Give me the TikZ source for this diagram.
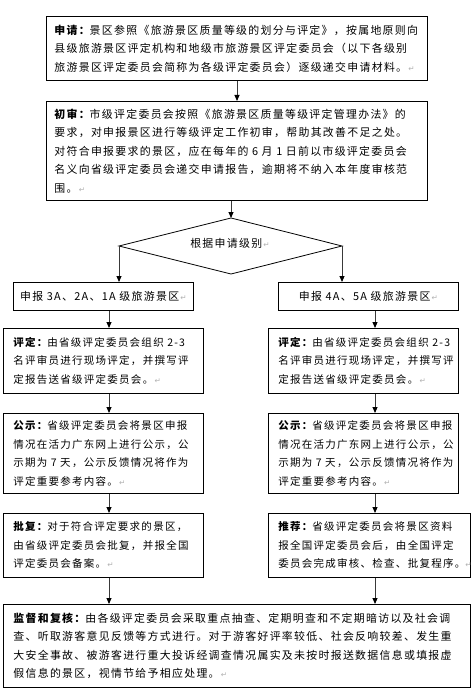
\documentclass[tikz,border=0pt]{standalone}
\usepackage{fontspec}
\setmainfont{Noto Sans CJK SC}[LetterSpace=12]
\newfontfamily\djv{DejaVu Sans}
\usetikzlibrary{arrows.meta}
\newcommand\retmark{{\djv\color{gray!60}\fontsize{7.5}{7.5}\selectfont\,↵}}
\newcommand\retmarktight{{\djv\color{gray!60}\fontsize{7.5}{7.5}\selectfont↵}}
\begin{document}
\begin{tikzpicture}[x=1pt,y=-1pt,
  box/.style={draw=black, line width=0.8pt, anchor=north west, inner ysep=0pt, align=left,
    font=\fontsize{10.9}{18.5}\selectfont},
  sbox/.style={box, font=\fontsize{10.5}{18.5}\selectfont},
  cbox/.style={box, align=center},
  arr/.style={draw=gray!45!black, line width=0.9pt, -{Triangle[width=5pt,length=6pt,black]}},
  lbl/.style={font=\fontsize{10.9}{18.5}\selectfont, inner sep=0pt}]
\useasboundingbox (0,0) rectangle (474,698);
\fill[white] (0,0) rectangle (474,698);

\node[box, minimum width=381pt, minimum height=64pt, text width=365pt, inner xsep=8pt] (b1) at (46,16)
 {{\bfseries 申请：}景区参照《旅游景区质量等级的划分与评定》，按属地原则向\\
  县级旅游景区评定机构和地级市旅游景区评定委员会（以下各级别\\
  旅游景区评定委员会简称为各级评定委员会）逐级递交申请材料。\retmark};

\node[box, minimum width=381pt, minimum height=99pt, text width=365pt, inner xsep=8pt] (b2) at (46,101)
 {{\bfseries 初审：}市级评定委员会按照《旅游景区质量等级评定管理办法》的\\
  要求，对申报景区进行等级评定工作初审，帮助其改善不足之处。\\
  对符合申报要求的景区，应在每年的~6~月~1~日前以市级评定委员会\\
  名义向省级评定委员会递交申请报告，逾期将不纳入本年度审核范\\
  围。\retmark};

% decision diamond
\coordinate (dt) at (231,218);
\coordinate (dr) at (342,246);
\coordinate (db) at (231,274);
\coordinate (dl) at (119,246);
\draw[line width=0.8pt] (dl) -- (dt) -- (dr) -- (db) -- cycle;
\node[lbl] (dtext) at (230,243) {根据申请级别\retmark};

\node[cbox, minimum width=180pt, minimum height=28pt, text width=170pt, inner xsep=5pt] (l0) at (13,282)
 {申报~3A、2A、1A~级旅游景区\retmark};
\node[cbox, minimum width=180pt, minimum height=28pt, text width=170pt, inner xsep=5pt] (r0) at (278,282)
 {申报~4A、5A~级旅游景区\retmark};

\node[sbox, minimum width=200pt, minimum height=65pt, text width=180pt, inner xsep=10pt] (l1) at (3,328)
 {{\bfseries 评定：}由省级评定委员会组织~\mbox{2-3}\\
  名评审员进行现场评定，并撰写评\\
  定报告送省级评定委员会。\retmark};
\node[sbox, minimum width=190pt, minimum height=65pt, text width=170pt, inner xsep=10pt] (r1) at (268,328)
 {{\bfseries 评定：}由省级评定委员会组织~\mbox{2-3}\\
  名评审员进行现场评定，并撰写评\\
  定报告送省级评定委员会。\retmark};

\node[sbox, minimum width=200pt, minimum height=80pt, text width=180pt, inner xsep=10pt] (l2) at (3,413)
 {{\bfseries 公示：}省级评定委员会将景区申报\\
  情况在活力广东网上进行公示，公\\
  示期为~7~天，公示反馈情况将作为\\
  评定重要参考内容。\retmark};
\node[sbox, minimum width=190pt, minimum height=80pt, text width=170pt, inner xsep=10pt] (r2) at (268,413)
 {{\bfseries 公示：}省级评定委员会将景区申报\\
  情况在活力广东网上进行公示，公\\
  示期为~7~天，公示反馈情况将作为\\
  评定重要参考内容。\retmark};

\node[sbox, minimum width=200pt, minimum height=64pt, text width=180pt, inner xsep=10pt] (l3) at (3,513)
 {{\bfseries 批复：}对于符合评定要求的景区，\\
  由省级评定委员会批复，并报全国\\
  评定委员会备案。\retmark};
\node[sbox, minimum width=202pt, minimum height=64pt, text width=182pt, inner xsep=10pt] (r3) at (268,513)
 {{\bfseries 推荐：}省级评定委员会将景区资料\\
  报全国评定委员会后，由全国评定\\
  委员会完成审核、检查、批复程序。\retmarktight};

\node[box, minimum width=467pt, minimum height=83pt, text width=447pt, inner xsep=10pt] (b3) at (3,604)
 {{\bfseries 监督和复核：}由各级评定委员会采取重点抽查、定期明查和不定期暗访以及社会调\\
  查、听取游客意见反馈等方式进行。对于游客好评率较低、社会反响较差、发生重\\
  大安全事故、被游客进行重大投诉经调查情况属实及未按时报送数据信息或填报虚\\
  假信息的景区，视情节给予相应处理。\retmark};

% connectors
\coordinate (c1) at (237,0);
\coordinate (cl) at (109,0);
\coordinate (cr) at (375,0);
\draw[arr] (b1.south -| c1) -- (b2.north -| c1);
\draw[arr] (b2.south -| dt) -- (dt);
\draw[arr] (dl) -- (l0.north -| dl);
\draw[arr] (dr) -- (r0.north -| dr);
\draw[arr] (l0.south -| cl) -- (l1.north -| cl);
\draw[arr] (r0.south -| cr) -- (r1.north -| cr);
\draw[arr] (l1.south -| cl) -- (l2.north -| cl);
\draw[arr] (r1.south -| cr) -- (r2.north -| cr);
\draw[arr] (l2.south -| cl) -- (l3.north -| cl);
\draw[arr] (r2.south -| cr) -- (r3.north -| cr);
\draw[arr] (l3.south -| cl) -- (b3.north -| cl);
\draw[arr] (r3.south -| cr) -- (b3.north -| cr);
\end{tikzpicture}
\end{document}
